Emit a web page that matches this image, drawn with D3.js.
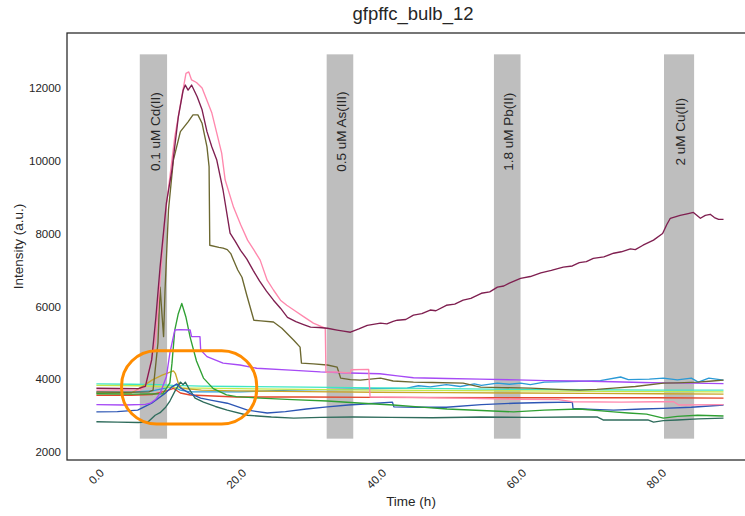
<!DOCTYPE html>
<html>
<head>
<meta charset="utf-8">
<script src="https://cdn.jsdelivr.net/npm/d3@7"></script>
<style>
  html, body { margin: 0; padding: 0; background: #ffffff; }
  svg { display: block; font-family: "Liberation Sans", Arial, sans-serif; }
</style>
</head>
<body>
<svg id="chart" width="745" height="516"></svg>
<script>
// ---- data: [time (h), intensity (a.u.)] per reporter trace ----
const maroon = [[0,3750],[3,3745],[6,3740],[6.6,3780],[7,3800],[7.9,4530],[8.5,5700],[9.1,7080],[10,8840],[10.8,9750],[11.7,11200],[12.4,11940],[12.7,12080],[13.1,11940],[13.6,12080],[14.4,11760],[15.1,11400],[15.8,10800],[16.5,10380],[17.2,10020],[18.1,9190],[19.1,8010],[19.8,7800],[20.6,7540],[21.5,7300],[22.4,6990],[23.3,6700],[24.3,6420],[25.3,6170],[26.3,5950],[27.3,5700],[28.5,5580],[29.6,5500],[30.6,5430],[31.8,5420],[33,5400],[34.4,5350],[35.3,5320],[36.3,5290],[37.5,5380],[38.7,5480],[40.6,5540],[41.5,5520],[42.4,5590],[43,5620],[44.2,5640],[45.3,5760],[46.5,5800],[47.7,5900],[48.5,5880],[50,6030],[51.2,6060],[52.4,6170],[53.5,6220],[55,6360],[56.2,6400],[57.3,6530],[58.2,6560],[59,6640],[60.6,6770],[62,6820],[63.5,6920],[65,6990],[66.7,7080],[68,7110],[69,7200],[70,7230],[71,7320],[72.5,7360],[73.9,7460],[75,7500],[76.3,7580],[77,7560],[78.1,7680],[79.6,7820],[80.9,8000],[81.5,8250],[82,8420],[83.4,8500],[84.4,8540],[85.3,8580],[86.3,8420],[87,8500],[87.7,8530],[88.3,8440],[88.9,8390],[89.6,8390]];
const pink = [[0,3700],[3,3700],[6.2,3700],[7,3800],[8.4,5000],[9.8,8460],[11.2,10660],[12.2,11760],[12.8,12400],[13.2,12440],[13.6,12220],[14.3,12150],[15.1,12000],[16.5,11310],[17.9,10210],[18.4,9470],[19.6,8720],[20.6,8250],[21.6,7820],[22.5,7550],[23.4,7270],[24.4,6720],[25.3,6450],[26.3,6170],[27.2,6030],[28.2,5900],[29.6,5720],[31,5540],[32,5460],[32.7,5400],[32.8,4190],[34,4200],[36.3,4170],[36.4,4260],[38.9,4270],[39.1,3510],[45,3500],[52,3480],[55,3470],[60,3450],[66,3440],[68,3380],[75,3370],[80,3380],[82.5,3380],[83.2,3290],[89.6,3300]];
const olive = [[0,3650],[4,3640],[7.5,3650],[8.1,3700],[8.8,5000],[9.1,6530],[9.4,5700],[9.6,5170],[9.8,6400],[10.3,8650],[11,10020],[12,10800],[13.1,11070],[13.8,11260],[14.5,11260],[15.1,11030],[15.8,10380],[16.1,9840],[16.2,7680],[17.5,7620],[18.1,7600],[18.7,7560],[19.2,7450],[19.6,7270],[20.2,7000],[20.8,6800],[21.5,6300],[22.5,5620],[23.5,5600],[25.3,5570],[26.5,5400],[28.2,5070],[29.1,4880],[29.3,4440],[31,4420],[33,4390],[34.4,4330],[34.9,4030],[36.3,3990],[37.7,3975],[40.6,4030],[42.4,3950],[45.3,3920],[48,3910],[52.4,3890],[54.9,3780],[58,3770],[62,3755],[66,3720],[69,3700],[71.5,3720],[73.9,3755],[77,3800],[81,3890],[83,3900],[85.9,3920],[88,3950],[89.6,3975]];
const green = [[0,3600],[5,3590],[9.5,3600],[10.5,3900],[10.8,4440],[11.2,5350],[11.7,5800],[12.2,6080],[12.8,5700],[13.4,5150],[14.3,4500],[15.3,4030],[16.7,3740],[18.6,3570],[20,3520],[23.4,3480],[28,3440],[33,3400],[38,3340],[42.4,3290],[46,3240],[50.1,3180],[55,3140],[59.6,3100],[64,3150],[69,3180],[73.9,3100],[76,3070],[78.6,3040],[81,2930],[83,2980],[85.9,3010],[89.6,2990]];
const violet = [[0,3300],[4,3290],[7,3310],[7.7,3340],[8.5,3450],[9.1,3610],[10,4070],[10.5,4720],[11.2,5350],[12,5360],[13.4,5350],[13.6,5170],[14.8,5170],[14.9,4800],[15.8,4620],[18.1,4440],[20.5,4390],[22.9,4300],[27.7,4250],[32,4200],[36.2,4170],[40.5,4150],[43,4090],[45.3,4040],[50,4020],[54.8,4000],[60,3980],[64.3,3960],[69,3950],[73.8,3930],[78,3910],[81,3900],[85,3890],[89.6,3880]];
const blue = [[0,3100],[3,3110],[5.9,3150],[7.9,3340],[9.8,3610],[10.8,3790],[11.5,3870],[12,3760],[13.4,3600],[14.9,3480],[16.5,3420],[18.7,3340],[21.6,3150],[24.4,3070],[27,3110],[30,3180],[33,3240],[36,3290],[40,3340],[42.3,3370],[42.5,3240],[46,3230],[50,3230],[55,3300],[59.6,3340],[64,3360],[68,3370],[68.1,3200],[71,3170],[73.9,3150],[78,3180],[81,3200],[85,3230],[89.6,3290]];
const teal = [[0,2830],[3,2820],[6,2810],[7.4,2830],[8.4,3010],[9.1,3080],[9.9,3230],[10.5,3400],[11.3,3700],[12,3920],[12.4,3850],[12.7,3920],[13.2,3750],[14.1,3480],[15.3,3370],[17,3250],[18.7,3150],[21.6,3010],[25,2960],[28.2,2930],[32,2950],[36.7,2960],[42,2950],[48,2940],[54.9,2960],[62,2950],[68,2960],[71.6,2960],[72.4,2880],[76,2880],[78.8,2880],[79.6,2820],[81,2860],[83,2880],[86,2910],[89.6,2930]];
const aqua = [[0,3870],[5,3860],[9,3850],[11,3830],[15,3810],[20,3800],[30,3780],[40,3760],[50,3740],[60,3720],[70,3710],[80,3700],[89.6,3700]];
const lime = [[0,3830],[6,3820],[9,3800],[12,3760],[20,3740],[40,3700],[60,3680],[80,3660],[89.6,3650]];
const gold = [[0,3620],[5,3620],[6.5,3790],[8,3980],[9.4,4110],[11,4230],[11.3,4150],[11.7,3890],[12.2,3750],[15,3700],[20,3680],[30,3660],[40,3640],[50,3630],[60,3620],[70,3610],[80,3600],[89.6,3590]];
const red = [[0,3560],[5,3560],[8,3580],[10,3680],[11,3750],[12,3620],[13.4,3565],[20,3510],[30,3510],[40,3500],[60,3490],[80,3490],[89.6,3480]];
const skyblue = [[0,3640],[5,3640],[8,3680],[10,3760],[11,3790],[12,3700],[13.4,3650],[20.6,3650],[27.7,3700],[35,3720],[40,3740],[44.4,3755],[46,3820],[47.7,3790],[50,3850],[52,3800],[54,3870],[55,3830],[57.3,3890],[59,3860],[60.6,3890],[62,3850],[64,3920],[69,3940],[72,3960],[74.9,4060],[76,3990],[79,4000],[81,4030],[83,3980],[85,4030],[86,3920],[87.5,4030],[89.6,3975]];

// metal exposure windows (h) and their labels
const exposureLabels = ["0.1 uM Cd(II)", "0.5 uM As(III)", "1.8 uM Pb(II)", "2 uM Cu(II)"];
const exposureStart = [6.2, 32.9, 56.8, 81.1];
const exposureEnd = [10.1, 36.7, 60.6, 85.4];
const exposureLabelY = 10800;

// highlighted early-response region: [time range], [intensity range]
const highlightTime = [3.6, 22.9];
const highlightIntensity = [2770, 4780];

const xTicks = [0, 20, 40, 60, 80];
const yTicks = [2000, 4000, 6000, 8000, 10000, 12000];

// ---- styling ----
const traces = [
  { values: skyblue, color: "#2b9ad6" },
  { values: aqua,    color: "#3fe6c4" },
  { values: lime,    color: "#c2e84a" },
  { values: gold,    color: "#c9a62a" },
  { values: red,     color: "#e2472b" },
  { values: teal,    color: "#2f6c5c" },
  { values: blue,    color: "#2d56b4" },
  { values: green,   color: "#2fa033" },
  { values: violet,  color: "#a64af5" },
  { values: olive,   color: "#6c6830" },
  { values: pink,    color: "#ff88ad" },
  { values: maroon,  color: "#7f1f50" }
];

const ink = "#262626";
const frame = { left: 67, right: 755, top: 33, bottom: 460 };

const svg = d3.select("#chart");

const x = d3.scaleLinear().domain([-4.2, 94.1]).range([frame.left, frame.right]);
const y = d3.scaleLinear().domain([1780, 13510]).range([frame.bottom, frame.top]);

// exposure bands span 5%..95% of the axes height
const bandTop = frame.top + (frame.bottom - frame.top) * 0.05;
const bandBottom = frame.bottom - (frame.bottom - frame.top) * 0.05;

svg.append("g").selectAll("rect")
  .data(exposureLabels.map((l, i) => ({ label: l, t0: exposureStart[i], t1: exposureEnd[i] })))
  .join("rect")
  .attr("x", d => x(d.t0))
  .attr("width", d => x(d.t1) - x(d.t0))
  .attr("y", bandTop)
  .attr("height", bandBottom - bandTop)
  .attr("fill", "#bebebe");

svg.append("g").selectAll("text")
  .data(exposureLabels.map((l, i) => ({ label: l, t: (exposureStart[i] + exposureEnd[i]) / 2 })))
  .join("text")
  .attr("transform", d => `translate(${x(d.t) + 1.5},${y(exposureLabelY)}) rotate(-90)`)
  .attr("text-anchor", "middle")
  .attr("dy", "0.35em")
  .attr("font-size", 13.5)
  .attr("fill", ink)
  .text(d => d.label);

// traces
const line = d3.line().x(d => x(d[0])).y(d => y(d[1]));
svg.append("g").selectAll("path")
  .data(traces)
  .join("path")
  .attr("d", d => line(d.values))
  .attr("fill", "none")
  .attr("stroke", d => d.color)
  .attr("stroke-width", 1.35)
  .attr("stroke-linejoin", "round");

// highlight outline
svg.append("rect")
  .attr("x", x(highlightTime[0]))
  .attr("y", y(highlightIntensity[1]))
  .attr("width", x(highlightTime[1]) - x(highlightTime[0]))
  .attr("height", y(highlightIntensity[0]) - y(highlightIntensity[1]))
  .attr("rx", 35).attr("ry", 35)
  .attr("fill", "none")
  .attr("stroke", "#ff8c00")
  .attr("stroke-width", 3);

// frame
svg.append("rect")
  .attr("x", frame.left).attr("y", frame.top)
  .attr("width", frame.right - frame.left).attr("height", frame.bottom - frame.top)
  .attr("fill", "none")
  .attr("stroke", ink)
  .attr("stroke-width", 1.25);

// y axis
const yAxis = svg.append("g")
  .attr("transform", `translate(${frame.left},0)`)
  .call(d3.axisLeft(y).tickValues(yTicks).tickSize(0).tickPadding(6).tickFormat(d3.format("d")));
yAxis.attr("font-size", 11.5)
  .attr("font-family", "Liberation Sans, Arial, sans-serif")
  .attr("color", ink);
yAxis.select(".domain").remove();
yAxis.selectAll("text").attr("fill", ink);

// x axis with rotated labels
const fmt = d3.format(".1f");
const xLabels = svg.append("g").selectAll("text")
  .data(xTicks)
  .join("text")
  .attr("text-anchor", "middle")
  .attr("dy", "0.35em")
  .attr("font-size", 11.5)
  .attr("fill", ink)
  .text(d => fmt(d));
xLabels.attr("transform", function(d) {
  const w = this.getComputedTextLength();
  const half = (w + 11.5 * 0.72) * Math.SQRT1_2 / 2;
  return `translate(${x(d)},${frame.bottom + 8 + half}) rotate(-45)`;
});

// axis titles
svg.append("text")
  .attr("x", (frame.left + frame.right) / 2)
  .attr("y", 506)
  .attr("text-anchor", "middle")
  .attr("font-size", 13.5)
  .attr("fill", ink)
  .text("Time (h)");

svg.append("text")
  .attr("transform", `translate(18,${(frame.top + frame.bottom) / 2}) rotate(-90)`)
  .attr("text-anchor", "middle")
  .attr("dy", "0.35em")
  .attr("font-size", 13.5)
  .attr("fill", ink)
  .text("Intensity (a.u.)");

svg.append("text")
  .attr("x", (frame.left + frame.right) / 2 + 2)
  .attr("y", 20)
  .attr("text-anchor", "middle")
  .attr("font-size", 18.5)
  .attr("fill", ink)
  .text("gfpffc_bulb_12");
</script>
</body>
</html>
